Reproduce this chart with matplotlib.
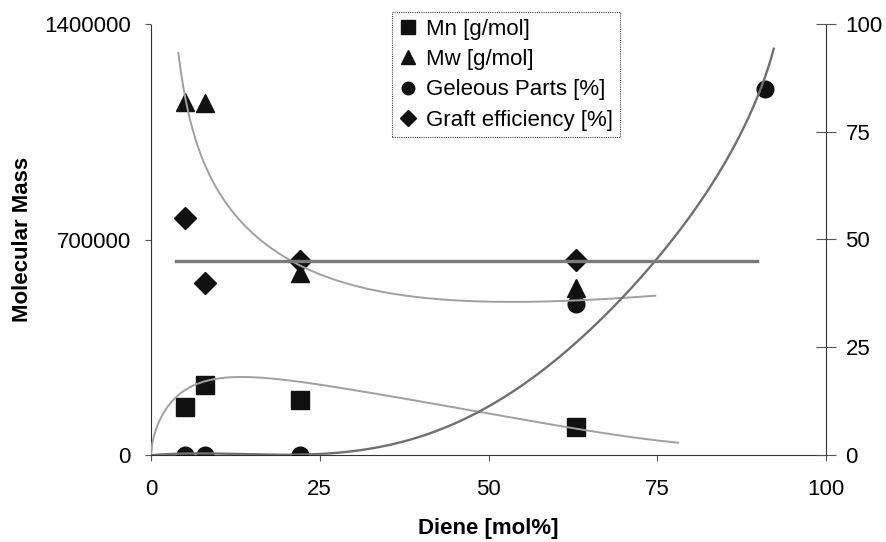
import numpy as np
import matplotlib
matplotlib.use('Agg')
import matplotlib.pyplot as plt
from matplotlib.ticker import FixedLocator, FuncFormatter

plt.rcParams['font.family'] = ['Liberation Sans', 'DejaVu Sans']

# measured points
diene = [5, 8, 22, 63]
mn = [157000, 229000, 178000, 90000]
mw = [1147000, 1144000, 590000, 541000]
gel_x = [5, 8, 22, 63, 91]
gel = [0, 0, 0, 35, 85]
graft = [55, 40, 45, 45.2]

# trend lines
mn_tx = [0, 0.6, 1.6, 3.1, 5.0, 7.0, 10.0, 13.9, 18.9, 23.8, 28.7, 33.9, 36.1, 41.3, 48.2, 55.7, 62.9, 71.0, 78.1]
mn_ty = [0, 70000, 130000, 173000, 211000, 233000, 249000, 252000, 244000, 231000, 217000, 200000, 192000,
         168000, 137000, 111000, 87000, 62000, 38000]
mw_tx = [4.05, 5.0, 6.0, 7.5, 9.0, 11.5, 13.9, 16.4, 20.3, 23.5, 26.8, 31.9, 41.8, 49.2, 59.1, 74.7]
mw_ty = [1307000, 1164000, 1077000, 969000, 893000, 806000, 741000, 698000, 639000, 603000, 574000,
         536000, 506000, 498000, 503000, 516000]
gel_tx = [0, 10, 20, 27, 32, 36, 41.8, 48.7, 54.2, 59.1, 61.6, 66, 70.5, 75.8, 79.8, 84.8, 86.5, 88, 89.2,
          90.2, 91.0, 91.6, 92.1]
gel_ty = [0, 0.1, 0.3, 0.5, 1.5, 2.7, 4.6, 9.8, 15.5, 21.3, 25.1, 30.7, 36.7, 46.5, 55.3, 67.7, 72.5, 77,
          80.8, 84, 86.8, 90, 94.5]
graft_tx = [3.7, 89.8]
graft_ty = [45.1, 45.1]


def smooth(tx, ty, deg, fx=lambda v: v):
    # least squares trend through the read samples, in a transformed x
    tx = np.array(tx, float)
    c = np.polyfit(fx(tx), ty, deg)
    xs = np.linspace(tx[0], tx[-1], 400)
    return xs, np.polyval(c, fx(xs))


def smooth_param(tx, ty, deg, sx, sy):
    # parametric fit along the chord length (handles the steep end of a curve)
    tx = np.array(tx, float)
    ty = np.array(ty, float)
    d = np.hypot(np.diff(tx * sx), np.diff(ty * sy))
    t = np.concatenate([[0], np.cumsum(d)])
    t = t / t[-1]
    cx = np.polyfit(t, tx, deg)
    cy = np.polyfit(t, ty, deg)
    ts = np.linspace(0, 1, 400)
    return np.polyval(cx, ts), np.polyval(cy, ts)


fig = plt.figure(figsize=(8.86, 5.42), dpi=100)
ax = fig.add_axes([151/886, 1-455/542, 675/886, 431/542])
ax2 = ax.twinx()

ax.set_xlim(0, 100)
ax.set_ylim(0, 1400000)
ax2.set_ylim(0, 100)

dot = (0, (1, 1))
for s in ['left', 'bottom']:
    ax.spines[s].set_linestyle(dot)
    ax.spines[s].set_color('#333333')
for s in ['top', 'right']:
    ax.spines[s].set_visible(False)
for s in ['top', 'left', 'bottom']:
    ax2.spines[s].set_visible(False)
ax2.spines['right'].set_linestyle(dot)
ax2.spines['right'].set_color('#333333')

ax.xaxis.set_major_locator(FixedLocator([0, 25, 50, 75, 100]))
ax.yaxis.set_major_locator(FixedLocator([0, 700000, 1400000]))
ax.yaxis.set_major_formatter(FuncFormatter(lambda v, p: '%d' % v))
ax2.yaxis.set_major_locator(FixedLocator([0, 25, 50, 75, 100]))
ax.tick_params(axis='x', direction='out', length=4, width=0.8, color='#555555', labelsize=16, pad=13)
ax.tick_params(axis='y', direction='out', length=4, width=0.8, color='#555555', labelsize=16, pad=10.5)
ax2.tick_params(axis='y', direction='inout', length=14, width=0.8, color='#555555', labelsize=16, pad=7)

ax.set_xlabel('Diene [mol%]', fontsize=16, fontweight='bold', labelpad=13)
ax.set_ylabel('Molecular Mass', fontsize=16, fontweight='bold', labelpad=8)

k = '#111111'
h1, = ax.plot(diene, mn, 's', color=k, ms=12.5, ls='none', label='Mn [g/mol]')
h2, = ax.plot(diene, mw, '^', color=k, ms=12.5, ls='none', label='Mw [g/mol]')
h3, = ax2.plot(gel_x, gel, 'o', color=k, ms=12, ls='none', label='Geleous Parts [%]', zorder=2)
h4, = ax2.plot(diene, graft, 'D', color=k, ms=11, ls='none', label='Graft efficiency [%]', zorder=2)

# trend lines (drawn on top of the markers)
xs, ys = smooth(mn_tx, mn_ty, 6, fx=np.sqrt)
ax2.plot(xs, ys, color='#a0a0a0', lw=1.4, transform=ax.transData, zorder=3)
xs, ys = smooth(mw_tx, mw_ty, 5, fx=np.log)
ax2.plot(xs, ys, color='#a0a0a0', lw=1.4, transform=ax.transData, zorder=3)
xs, ys = smooth_param(gel_tx, gel_ty, 7, 6.75, 4.31)
ax2.plot(xs, ys, color='#707070', lw=1.7, zorder=3)
ax2.plot(graft_tx, graft_ty, color='#7a7a7a', lw=2.4, zorder=3)

leg = fig.legend([h1, h2, h3, h4], [h.get_label() for h in [h1, h2, h3, h4]],
                 loc='upper left', bbox_to_anchor=(392/886, 1-12/542), borderaxespad=0,
                 fontsize=16, markerscale=0.75, handlelength=0.8, handletextpad=0.45,
                 labelspacing=0.42, borderpad=0.3, fancybox=False, framealpha=1)
leg.get_frame().set_edgecolor('#444444')
leg.get_frame().set_linestyle(dot)
leg.get_frame().set_linewidth(0.8)

fig.savefig('out.png', dpi=100)
